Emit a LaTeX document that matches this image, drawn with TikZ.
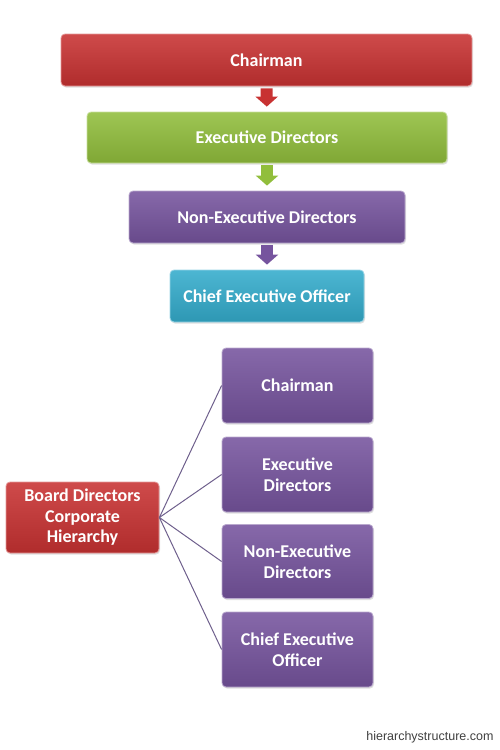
\documentclass[tikz,border=0pt]{standalone}
\usepackage{fontspec}
\setmainfont{Carlito}
\newfontfamily\sitefont{Liberation Sans}
\usetikzlibrary{shadows,arrows.meta}

\definecolor{boxred}{RGB}{200,50,50}
\definecolor{boxgreen}{RGB}{145,190,60}
\definecolor{boxpurple}{RGB}{118,84,158}
\definecolor{boxcyan}{RGB}{52,172,204}
\definecolor{linkpurple}{RGB}{110,95,140}

\tikzset{
  box/.style={rounded corners=4pt, draw=white!50!#1, line width=0.8pt,
    top color=#1!88!white, bottom color=#1!88!black, text=white,
    font=\bfseries\fontsize{18}{20.5}\selectfont, align=center, inner sep=0pt,
    drop shadow={opacity=0.25, shadow xshift=1pt, shadow yshift=-1.5pt}},
  flow/.style={draw=#1, line width=12pt, -{Triangle[width=22pt,length=10pt]},
    shorten <=2pt, shorten >=5pt},
  link/.style={draw=linkpurple, line width=1pt}
}

\begin{document}
\begin{tikzpicture}[x=1pt, y=-1pt]
  \useasboundingbox (0,0) rectangle (500,750);

  % top chain
  \node[box=boxred, minimum width=411pt, minimum height=52pt] (chair) at (266.5,60) {Chairman};
  \node[box=boxgreen, minimum width=360pt, minimum height=51pt] (exec) at (267,137.5) {Executive Directors};
  \node[box=boxpurple, minimum width=276pt, minimum height=52pt] (nonexec) at (267,217) {Non-Executive Directors};
  \node[box=boxcyan, minimum width=194pt, minimum height=52pt] (ceo) at (267,296) {Chief Executive Officer};

  \draw[flow=boxred] (chair) -- (exec);
  \draw[flow=boxgreen] (exec) -- (nonexec);
  \draw[flow=boxpurple] (nonexec) -- (ceo);

  % board and its members
  \node[box=boxred, minimum width=153pt, minimum height=71pt] (board) at (82.5,517.5) {Board Directors\\Corporate\\Hierarchy};

  \node[box=boxpurple, minimum width=151pt, minimum height=75pt] (mchair) at (297.5,385.5) {Chairman};
  \node[box=boxpurple, minimum width=151pt, minimum height=75pt] (mexec) at (297.5,474.5) {Executive\\Directors};
  \node[box=boxpurple, minimum width=151pt, minimum height=74pt] (mnonexec) at (297.5,561.5) {Non-Executive\\Directors};
  \node[box=boxpurple, minimum width=151pt, minimum height=75pt] (mceo) at (297.5,649.5) {Chief Executive\\Officer};

  \foreach \m in {mchair, mexec, mnonexec, mceo}
    \draw[link] (board.east) -- (\m.west);

  \node[font=\sitefont\fontsize{12.5}{14}\selectfont, text=black!75, anchor=east] (site) at (497,737) {hierarchystructure.com};
\end{tikzpicture}
\end{document}
